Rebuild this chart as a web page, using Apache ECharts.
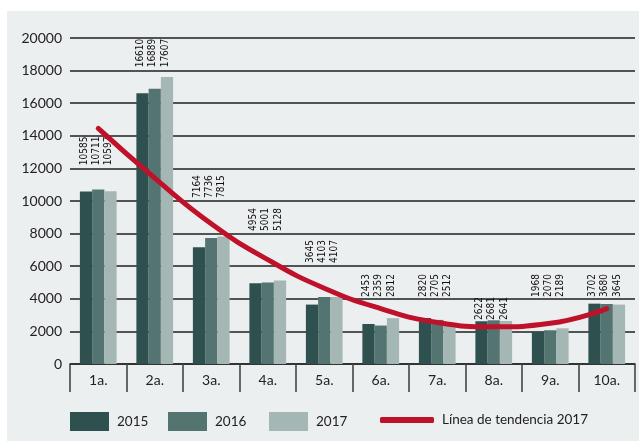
<!DOCTYPE html>
<html><head><meta charset="utf-8">
<script src="https://cdn.jsdelivr.net/npm/echarts@6/dist/echarts.min.js"></script>
<style>html,body{margin:0;padding:0;background:#fff}#c{width:639px;height:443px}</style>
</head><body><div id="c"></div>
<script>
const categories = ['1a.', '2a.', '3a.', '4a.', '5a.', '6a.', '7a.', '8a.', '9a.', '10a.'];
const seriesNames = ['2015', '2016', '2017'];
const values2015 = [10585, 16610, 7164, 4954, 3645, 2453, 2820, 2622, 1968, 3702];
const values2016 = [10711, 16889, 7736, 5001, 4103, 2359, 2705, 2681, 2070, 3680];
const values2017 = [10597, 17607, 7815, 5128, 4107, 2812, 2512, 2641, 2189, 3645];
const trendName = 'Línea de tendencia 2017';
const trend2017 = [14450, 11400, 8600, 6400, 4650, 3400, 2550, 2280, 2500, 3400];
// value level where each group's vertical value labels begin
const labelBase = [12200, 18200, 10180, 8160, 6200, 4110, 4110, 2700, 4110, 4110];
const yMin = 0, yMax = 20000, yInterval = 2000;

const colors = ['#2e514f', '#547471', '#a5b7b5'];
const trendColor = '#c0112b';
const font = 'Lato, "Open Sans", sans-serif';
const narrow = '"Liberation Sans Narrow", "DejaVu Sans Condensed", "Liberation Sans", sans-serif';

const chart = echarts.init(document.getElementById('c'), null, {renderer: 'canvas'});
const allValues = [values2015, values2016, values2017];

function barSeries(offsets) {
  return allValues.map((vals, i) => ({
    name: seriesNames[i],
    type: 'bar',
    barGap: '0%',
    barCategoryGap: '35%',
    z: 2,
    itemStyle: {color: colors[i]},
    label: {
      show: true, position: 'top', distance: 0, rotate: 90,
      align: 'left', verticalAlign: 'middle',
      fontFamily: narrow, fontSize: 10, color: '#111'
    },
    data: vals.map((v, j) => offsets ? {value: v, label: {offset: offsets[i][j]}} : v)
  }));
}

function legendFor(name, left, w, h, icon) {
  return {
    left: left, top: icon === 'rect' ? 412 : 413, padding: 0, itemWidth: w, itemHeight: h,
    icon: icon, data: [name], selectedMode: false,
    textStyle: {fontFamily: font, fontSize: 13.5, color: '#222', padding: [0, 0, 0, 3]}
  };
}

function build(offsets) {
  return {
    animation: false,
    graphic: [{type: 'rect', left: 7, top: 11, z: -10, silent: true,
      shape: {width: 632, height: 430}, style: {fill: '#eceff0'}}],
    legend: [
      legendFor('2015', 70, 39, 19, 'rect'),
      legendFor('2016', 168, 39, 19, 'rect'),
      legendFor('2017', 269, 39, 19, 'rect'),
      legendFor(trendName, 380, 54, 6, 'roundRect')
    ],
    grid: {left: 70, right: 4, top: 38, bottom: 79, containLabel: false},
    xAxis: {
      type: 'category', data: categories, boundaryGap: true,
      axisLine: {show: true, lineStyle: {color: '#2a2a2a', width: 1.6}},
      axisTick: {show: true, length: 28, lineStyle: {color: '#444', width: 1.6}},
      axisLabel: {fontFamily: font, fontSize: 14, color: '#222', margin: 9}
    },
    yAxis: {
      type: 'value', min: yMin, max: yMax, interval: yInterval,
      axisLine: {show: false}, axisTick: {show: false},
      splitLine: {lineStyle: {color: '#1f1f1f', width: 1.6}},
      axisLabel: {fontFamily: font, fontSize: 14, color: '#222', margin: 8,
        formatter: v => String(v)}
    },
    series: barSeries(offsets).concat([{
      name: trendName, type: 'line', smooth: true, symbol: 'none', z: 5,
      itemStyle: {color: trendColor},
      lineStyle: {color: trendColor, width: 5, cap: 'round'},
      data: trend2017
    }])
  };
}

chart.setOption(build(null));
// label offsets live in the label's rotated frame: [along text (up), across text (right)]
const offsets = allValues.map(vals => vals.map((v, j) => {
  const yBar = chart.convertToPixel({yAxisIndex: 0}, v);
  const yBase = chart.convertToPixel({yAxisIndex: 0}, labelBase[j]);
  return [yBar - yBase, -2];
}));
chart.setOption(build(offsets));
</script></body></html>
